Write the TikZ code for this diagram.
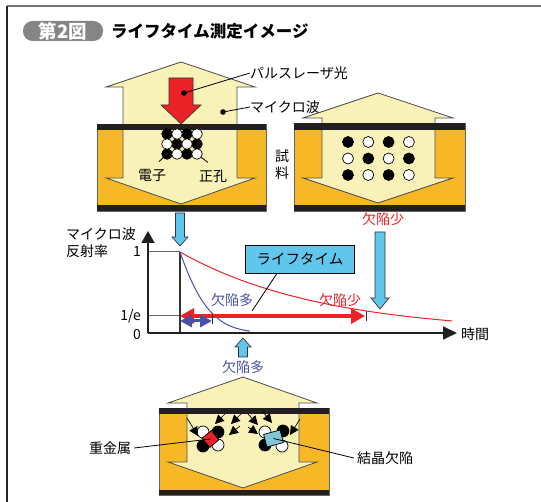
\documentclass[tikz,border=0pt]{standalone}
\usepackage{fontspec}
\setmainfont{Noto Sans CJK JP}
\usetikzlibrary{arrows.meta}
\definecolor{sampleorange}{RGB}{246,184,38}
\definecolor{wavecream}{RGB}{249,242,184}
\definecolor{laserred}{RGB}{235,34,39}
\definecolor{probecyan}{RGB}{96,198,236}
\definecolor{defectblue}{RGB}{72,82,165}
\definecolor{defectcyan}{RGB}{128,198,216}
\definecolor{barblack}{RGB}{35,31,32}

\begin{document}
\begin{tikzpicture}[x=1pt, y=-1pt,
    lbl/.style={font=\fontsize{14}{17}\selectfont, inner sep=0pt},
    body/.style={fill=sampleorange, draw=black!60, line width=0.6pt},
    wave/.style={fill=wavecream, draw=black!70, line width=0.8pt},
    bar/.style={fill=barblack},
    probe/.style={fill=probecyan, draw=black!80, line width=0.7pt},
    carrier/.style={draw=black, line width=0.7pt},
    pull/.style={-{Triangle[length=9pt,width=9pt]}, line width=0.7pt},
    leader/.style={line width=0.8pt}]
    \useasboundingbox (0,0) rectangle (541,502);
    \draw[black!55, line width=1.6pt] (7,6) -- (541,6);
    \draw[black!85, line width=1.6pt] (7,6) -- (7,502);
    \node[fill=black!48, rounded corners=9.5pt, text=white, font=\fontsize{18.5}{18}\selectfont\bfseries, minimum width=80pt, minimum height=20pt, inner sep=0pt] (fig) at (63,31) {第2図};
    \node[anchor=west, font=\fontsize{16.5}{18}\selectfont\bfseries, inner sep=0pt] (title) at (111,31) {ライフタイム測定イメージ};

    % sample under the laser pulse
    \filldraw[body] (97,124) rectangle (266,211);
    \filldraw[wave] (181,62) -- (255,87) -- (237,87) -- (237,178) -- (255,178) -- (181,204) -- (106,178) -- (123,178) -- (123,87) -- (106,87) -- cycle;
    \fill[bar] (97,124) rectangle (266,130);
    \fill[bar] (97,205) rectangle (266,211);
    \filldraw[fill=laserred, draw=black!80, line width=0.6pt] (169,78) -- (193,78) -- (193,105) -- (201,105) -- (181,124) -- (161,105) -- (169,105) -- cycle;
    \node[lbl] (denshi) at (152,176) {電子};
    \node[lbl] (seikou) at (213,176) {正孔};
    \draw[leader] (denshi.north) ++(7,-8) -- (167,154);
    \draw[leader] (seikou.north) ++(-5,-7) -- (197,154);
    \foreach \i/\j in {0/0,2/0,1/1,3/1,0/2,2/2}
        \filldraw[carrier, fill=black] (167+10*\i,134+10*\j) circle (5.3);
    \foreach \i/\j in {1/0,3/0,0/1,2/1,1/2,3/2}
        \filldraw[carrier, fill=white] (167+10*\i,134+10*\j) circle (5.3);
    \node[lbl, anchor=west] (pulse) at (250,73) {パルスレーザ光};
    \node[lbl, anchor=west] (micro) at (250,107) {マイクロ波};
    \coordinate (laserdot) at (184,93);
    \coordinate (wavedot) at (223,112);
    \fill (laserdot) circle (2.8);
    \fill (wavedot) circle (2.8);
    \draw[leader] (laserdot) -- (pulse.west);
    \draw[leader] (wavedot) -- (micro.west);
    \node[lbl, align=center] (shiryo) at (282,165) {試\\料};

    % sample at rest
    \filldraw[body] (294,123) rectangle (465,211);
    \filldraw[wave] (378,93) -- (453,118) -- (435,118) -- (435,178) -- (453,178) -- (378,203) -- (303,178) -- (322,178) -- (322,118) -- (303,118) -- cycle;
    \fill[bar] (294,123) rectangle (465,130);
    \fill[bar] (294,205) rectangle (465,211);
    \foreach \i/\j in {0/0,2/0,1/1,3/1,0/2,2/2}
        \filldraw[carrier, fill=black] (348+20.3*\i,142+16.5*\j) circle (5.5);
    \foreach \i/\j in {1/0,3/0,0/1,2/1,1/2,3/2}
        \filldraw[carrier, fill=white] (348+20.3*\i,142+16.5*\j) circle (5.5);

    % decay curves
    \coordinate (origin) at (148,333);
    \coordinate (ytip) at (148,231);
    \coordinate (xtip) at (457,333);
    \draw[black!60, line width=1pt] (148,252) -- (180,252);
    \draw[black!60, line width=1pt] (148,316) -- (180,316);
    \draw[black!80, line width=1.4pt] (180,252) -- (180,333);
    \draw[laserred, line width=1pt] plot[domain=0:272, samples=70] ({180+\x},{333-81*exp(-\x/143)});
    \draw[defectblue, line width=1pt] plot[domain=0:70, samples=40] ({180+\x},{333-81*exp(-\x/28-(\x/62)^2)});
    \draw[barblack, line width=1.8pt, -{Triangle[length=12pt,width=13pt]}] (origin) -- (ytip);
    \draw[barblack, line width=1.8pt, -{Triangle[length=14pt,width=13pt]}] (origin) -- (xtip);
    \node[lbl, anchor=east] (one) at (141,252) {1};
    \node[lbl, anchor=east] (inve) at (141,316) {1/e};
    \node[lbl, anchor=east] (zero) at (141,335) {0};
    \node[lbl, anchor=west, align=left] (ylabel) at (66,243) {マイクロ波\\反射率};
    \node[lbl, anchor=west] (time) at (461,334) {時間};

    \draw[laserred, line width=3.5pt, {Triangle[length=14pt,width=15pt]}-{Triangle[length=14pt,width=15pt]}] (180,316) -- (365,316);
    \draw[black!80, line width=0.8pt] (366,311) -- (366,321);
    \draw[defectblue, line width=3pt, {Triangle[length=12pt,width=12pt]}-{Triangle[length=12pt,width=12pt]}] (180,321) -- (212,321);
    \draw[black!80, line width=0.8pt] (212,313) -- (212,324);
    \node[lbl, text=defectblue] (many) at (232,300) {欠陥多};
    \node[lbl, text=laserred] (few) at (340,300) {欠陥少};
    \node[draw=black, line width=0.8pt, fill=probecyan, minimum width=109pt, minimum height=28pt, inner sep=0pt, font=\fontsize{14.5}{17}\selectfont] (life) at (300,259) {ライフタイム};
    \coordinate (lifeend) at (252,311);
    \draw[leader] (life.south) ++(-23,0) -- (lifeend);

    % probe arrows
    \filldraw[probe] (175.5,213) -- (184.5,213) -- (184.5,237) -- (188,237) -- (180,246) -- (172,237) -- (175.5,237) -- cycle;
    \filldraw[probe] (375,232) -- (385,232) -- (385,298) -- (389,298) -- (380,309) -- (371,298) -- (375,298) -- cycle;
    \filldraw[probe] (238.5,357) -- (247.5,357) -- (247.5,347) -- (251,347) -- (243,338) -- (235,347) -- (238.5,347) -- cycle;
    \node[lbl, text=laserred] (few2) at (383,219) {欠陥少};
    \node[lbl, text=defectblue] (many2) at (243,367) {欠陥多};

    % sample with traps
    \filldraw[body] (159,408) rectangle (329,495);
    \filldraw[wave] (243,377) -- (317,403) -- (299,403) -- (299,462) -- (317,462) -- (243,488) -- (168,462) -- (187,462) -- (187,403) -- (168,403) -- cycle;
    \fill[bar] (159,408) rectangle (329,414);
    \fill[bar] (159,490) rectangle (329,495);

    \filldraw[carrier, fill=white] (203,432) circle (6);
    \filldraw[carrier, fill=black] (218,432) circle (6);
    \filldraw[carrier, fill=black] (203,446) circle (6);
    \filldraw[carrier, fill=white] (218,445) circle (6);
    \filldraw[fill=laserred, draw=black, line width=0.7pt, rotate around={40:(210.5,439)}] (204.5,433) rectangle (216.5,445);
    \filldraw[carrier, fill=white] (265,432) circle (6);
    \filldraw[carrier, fill=black] (283,431) circle (6);
    \filldraw[carrier, fill=black] (265,445) circle (6);
    \filldraw[carrier, fill=white] (282,446) circle (6);
    \filldraw[fill=defectcyan, draw=black, line width=0.7pt, rotate around={15:(273.5,438.5)}] (265,432) rectangle (282,445);

    \draw[pull] (225,414) -- (215,424);
    \draw[pull] (241,414) -- (231,424);
    \draw[pull] (240,426) -- (229,435);
    \draw[pull] (187,418) -- (198,436);
    \draw[pull] (248,414) -- (258,425);
    \draw[pull] (263,412) -- (272,423);
    \draw[pull] (248,427) -- (258,434);
    \draw[pull] (300,419) -- (290,435);

    \node[lbl] (metal) at (110,448) {重金属};
    \node[lbl] (crystal) at (385,458) {結晶欠陥};
    \coordinate (metalmark) at (210.5,439);
    \coordinate (crystalmark) at (273.5,438.5);
    \draw[leader] (metal.east) ++(3,0) -- (metalmark);
    \draw[leader] (crystal.west) ++(-3,0) -- (crystalmark);
\end{tikzpicture}
\end{document}
